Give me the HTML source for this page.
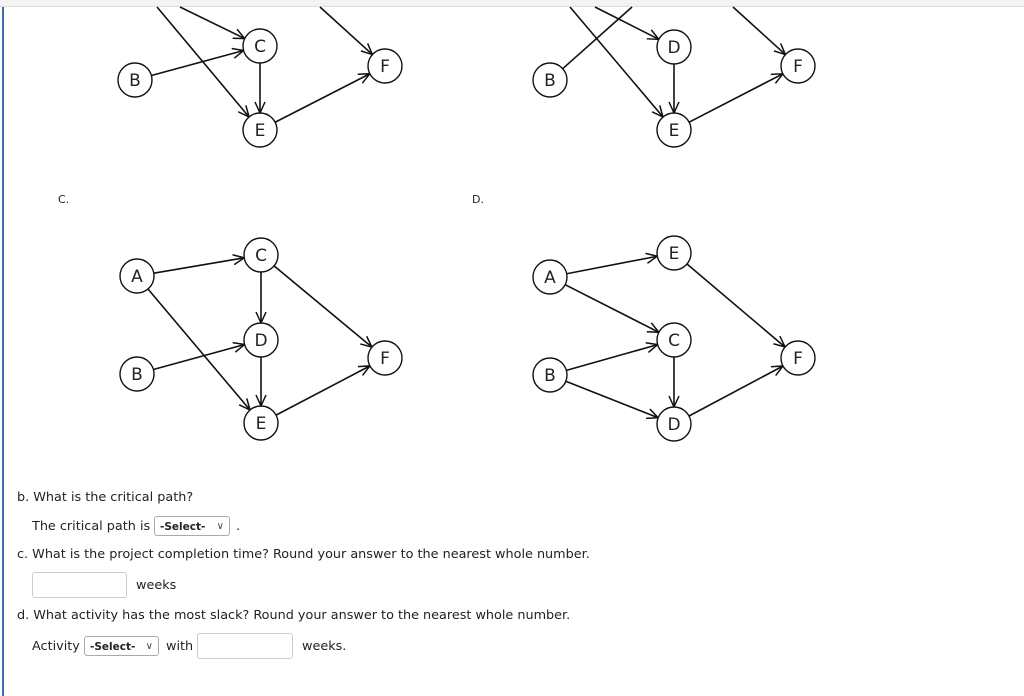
<!DOCTYPE html>
<html><head><meta charset="utf-8"><style>
html,body{margin:0;padding:0;background:#fff;}
body{width:1024px;height:696px;position:relative;overflow:hidden;font-family:"DejaVu Sans","Liberation Sans",sans-serif;font-size:12.8px;color:#222;}
#top{position:absolute;left:0;top:0;width:1024px;height:6px;background:#f3f3f3;border-bottom:1px solid #ddd;}
#bar{position:absolute;left:2px;top:7px;width:2px;height:689px;background:#3a6db5;}
svg{position:absolute;left:0;top:0;}
.t{position:absolute;white-space:nowrap;}
.sel{position:absolute;border:1px solid #aaa;border-radius:3px;height:20px;font-size:10.5px;font-weight:bold;line-height:20px;padding-left:5px;box-sizing:border-box;background:#fff;}
.sel span{position:absolute;right:5px;top:0;font-weight:normal;font-size:10px;color:#444;}
.inp{position:absolute;border:1px solid #ccc;border-radius:3px;height:26px;box-sizing:border-box;background:#fff;}
</style></head><body>
<div id="top"></div><div id="bar"></div>
<svg id="g" width="1024" height="696" viewBox="0 0 1024 696"></svg>
<div class="t" style="left:58px;top:193px;font-size:11px">C.</div>
<div class="t" style="left:472px;top:193px;font-size:11px">D.</div>
<div class="t" style="left:17px;top:490px">b. What is the critical path?</div>
<div class="t" style="left:32px;top:519px">The critical path is</div>
<div class="sel" style="left:154px;top:516px;width:76px">-Select-<span>&#8744;</span></div>
<div class="t" style="left:236px;top:519px">.</div>
<div class="t" style="left:17px;top:547px">c. What is the project completion time? Round your answer to the nearest whole number.</div>
<div class="inp" style="left:32px;top:572px;width:95px"></div>
<div class="t" style="left:136px;top:578px">weeks</div>
<div class="t" style="left:17px;top:608px">d. What activity has the most slack? Round your answer to the nearest whole number.</div>
<div class="t" style="left:32px;top:639px">Activity</div>
<div class="sel" style="left:84px;top:636px;width:75px">-Select-<span>&#8744;</span></div>
<div class="t" style="left:166px;top:639px">with</div>
<div class="inp" style="left:197px;top:633px;width:96px"></div>
<div class="t" style="left:302px;top:639px">weeks.</div>
<script>
var R=17,s='';
function N(x,y,l){s+='<circle cx="'+x+'" cy="'+y+'" r="'+R+'" fill="#fff" stroke="#111" stroke-width="1.4"/><text x="'+x+'" y="'+(y+6)+'" text-anchor="middle" font-family="DejaVu Sans,Liberation Sans,sans-serif" font-size="17" fill="#222">'+l+'</text>';}
function E(a,b,c,d,startFree,noArrow){var dx=c-a,dy=d-b,L=Math.hypot(dx,dy),ux=dx/L,uy=dy/L;
var x1=startFree?a:a+ux*R,y1=startFree?b:b+uy*R,x2=c-ux*R,y2=d-uy*R;
if(noArrow){x2=c;y2=d;x1=a+ux*R;y1=b+uy*R;}
s+='<line x1="'+x1+'" y1="'+y1+'" x2="'+x2+'" y2="'+y2+'" stroke="#111" stroke-width="1.6"/>';
if(!noArrow){var h=11,w=5;var bx=x2-ux*h,by=y2-uy*h;s+='<polyline points="'+(bx-uy*w)+','+(by+ux*w)+' '+x2+','+y2+' '+(bx+uy*w)+','+(by-ux*w)+'" fill="none" stroke="#111" stroke-width="1.5"/>';}}
E(157,7,260,130,1);E(180,7,260,46,1);E(320,7,385,66,1);
E(135,80,260,46);E(260,46,260,130);E(260,130,385,66);
N(135,80,'B');N(260,46,'C');N(260,130,'E');N(385,66,'F');
E(570,7,674,130,1);E(595,7,674,47,1);E(550,80,632,7,0,1);E(733,7,798,66,1);
E(674,47,674,130);E(674,130,798,66);
N(550,80,'B');N(674,47,'D');N(674,130,'E');N(798,66,'F');
var A=[137,276],B=[137,374],C=[261,255],D=[261,340],Ee=[261,423],F=[385,358];
E(A[0],A[1],C[0],C[1]);E(A[0],A[1],Ee[0],Ee[1]);E(B[0],B[1],D[0],D[1]);E(C[0],C[1],D[0],D[1]);
E(D[0],D[1],Ee[0],Ee[1]);E(C[0],C[1],F[0],F[1]);E(Ee[0],Ee[1],F[0],F[1]);
N(A[0],A[1],'A');N(B[0],B[1],'B');N(C[0],C[1],'C');N(D[0],D[1],'D');N(Ee[0],Ee[1],'E');N(F[0],F[1],'F');
A=[550,277];B=[550,375];var E2=[674,253];C=[674,340];D=[674,424];F=[798,358];
E(A[0],A[1],E2[0],E2[1]);E(A[0],A[1],C[0],C[1]);E(B[0],B[1],C[0],C[1]);E(B[0],B[1],D[0],D[1]);
E(E2[0],E2[1],F[0],F[1]);E(C[0],C[1],D[0],D[1]);E(D[0],D[1],F[0],F[1]);
N(A[0],A[1],'A');N(B[0],B[1],'B');N(E2[0],E2[1],'E');N(C[0],C[1],'C');N(D[0],D[1],'D');N(F[0],F[1],'F');
document.getElementById('g').innerHTML=s;
</script>
</body></html>
